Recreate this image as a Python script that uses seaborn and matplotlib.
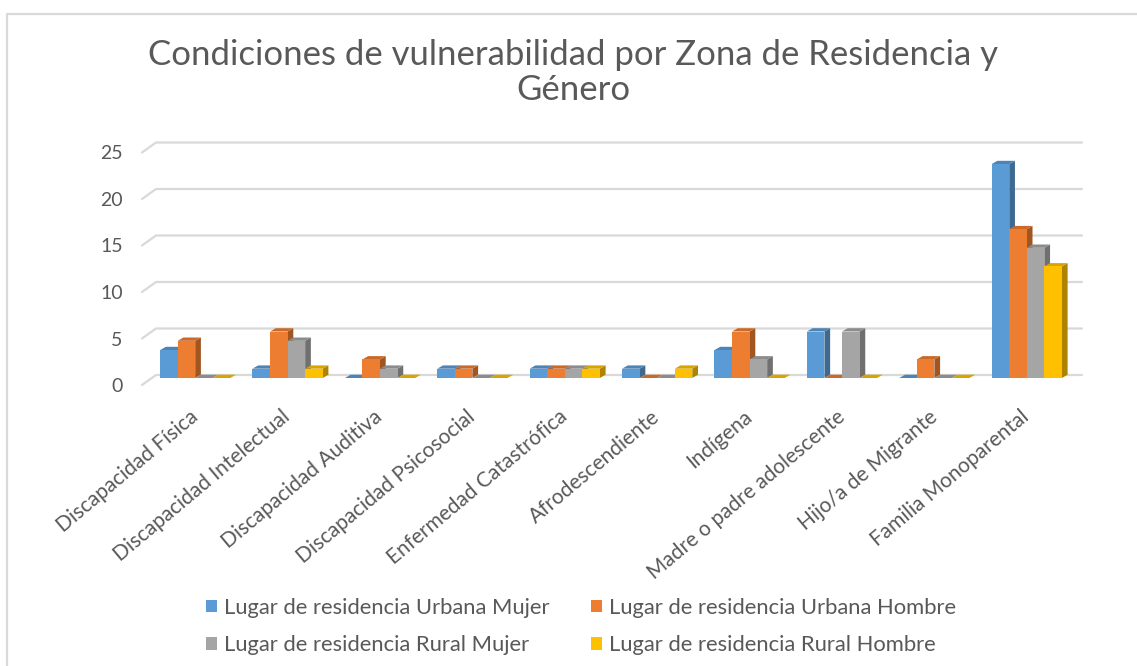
import matplotlib
matplotlib.use("Agg")
import matplotlib.pyplot as plt
import matplotlib.transforms as mtransforms
from matplotlib.patches import Polygon
from matplotlib.lines import Line2D
import matplotlib.colors as mcolors
import seaborn as sns
import numpy as np
import pandas as pd

# ---------------- datos ----------------
categorias = ["Discapacidad Física", "Discapacidad Intelectual", "Discapacidad Auditiva",
              "Discapacidad Psicosocial", "Enfermedad Catastrófica", "Afrodescendiente",
              "Indígena", "Madre o padre adolescente", "Hijo/a de Migrante",
              "Familia Monoparental"]
series = ["Lugar de residencia Urbana Mujer", "Lugar de residencia Urbana Hombre",
          "Lugar de residencia Rural Mujer", "Lugar de residencia Rural Hombre"]
urbana_mujer  = [3, 1, 0, 1, 1, 1, 3, 5, 0, 23]
urbana_hombre = [4, 5, 2, 1, 1, 0, 5, 0, 2, 16]
rural_mujer   = [0, 4, 1, 0, 1, 0, 2, 5, 0, 14]
rural_hombre  = [0, 1, 0, 0, 1, 1, 0, 0, 0, 12]
y_ticks = [0, 5, 10, 15, 20, 25]
titulo = "Condiciones de vulnerabilidad por Zona de Residencia y\nGénero"

colores = ["#5B9BD5", "#ED7D31", "#A5A5A5", "#FFC000"]
texto_gris = "#595959"
grid_gris = "#D9D9D9"

df = pd.DataFrame({
    "categoria": categorias * 4,
    "serie": sum([[s] * len(categorias) for s in series], []),
    "valor": urbana_mujer + urbana_hombre + rural_mujer + rural_hombre,
})

# ---------------- figura ----------------
sns.set_style("white")
plt.rcParams["font.family"] = ["Lato", "DejaVu Sans"]

W, H, DPI = 1137, 666, 100
fig = plt.figure(figsize=(W / DPI, H / DPI), dpi=DPI)

PX_X = 92.4      # px por categoria
PX_Y = 9.3       # px por unidad
ax_left, ax_bottom = 149, 378
ax_w = 10 * PX_X
ax_h = 25 * PX_Y
ax = fig.add_axes([ax_left / W, (H - ax_bottom) / H, ax_w / W, ax_h / H])

sns.barplot(data=df, x="categoria", y="valor", hue="serie", palette=colores,
            width=0.76, saturation=1, linewidth=0, ax=ax, legend=True)
ax.set_xlim(-0.5, 9.5)
ax.set_ylim(0, 25)

# ---- efecto 3D en las barras ----
dx = 5.7 / PX_X
dy = 3.3 / PX_Y
for h, cont in enumerate(ax.containers):
    base = np.array(mcolors.to_rgb(colores[h]))
    lado = base * 0.68
    tapa = base * 0.85
    for bar in cont:
        x0 = bar.get_x()
        x1 = x0 + bar.get_width()
        top = bar.get_height()
        bar.set_zorder(3 + h + 0.02)
        side = Polygon([(x1, 0), (x1 + dx, dy), (x1 + dx, top + dy), (x1, top)],
                       closed=True, facecolor=lado, edgecolor="none", zorder=3 + h + 0.01)
        cap = Polygon([(x0, top), (x1, top), (x1 + dx, top + dy), (x0 + dx, top + dy)],
                      closed=True, facecolor=tapa, edgecolor="none", zorder=3 + h + 0.015)
        ax.add_patch(side)
        ax.add_patch(cap)

# ---- lineas de cuadricula con perspectiva ----
fx = -0.5 - 7 / PX_X
bx = -0.5 + 7 / PX_X
rx = 9.5 + 9 / PX_X
for v in y_ticks:
    ax.add_line(Line2D([fx, bx, rx], [v - 7 / PX_Y, v + 3 / PX_Y, v + 3 / PX_Y],
                       color=grid_gris, lw=1.6, zorder=1, clip_on=False))

for s in ax.spines.values():
    s.set_visible(False)
ax.grid(False)
ax.set_xlabel("")
ax.set_ylabel("")

ax.set_yticks(y_ticks)
ax.set_yticklabels([str(v) for v in y_ticks])
ax.tick_params(axis="y", length=0, pad=19, labelsize=14, labelcolor=texto_gris)
for lab in ax.get_yticklabels():
    lab.set_transform(lab.get_transform() +
                      mtransforms.ScaledTranslation(0, -7 / DPI, fig.dpi_scale_trans))

ax.set_xticks(range(len(categorias)))
ax.set_xticklabels(categorias, rotation=40, ha="right", va="center",
                   rotation_mode="anchor", fontsize=15, color=texto_gris)
ax.tick_params(axis="x", length=0, pad=26)

# ---- leyenda (orden por filas como en Excel) ----
handles, labels = ax.get_legend_handles_labels()
ax.legend_.remove()
orden = [0, 2, 1, 3]
fig.legend([handles[i] for i in orden], [labels[i] for i in orden], ncol=2, loc="center",
           bbox_to_anchor=(581 / W, (H - 626.5) / H), frameon=False,
           fontsize=15.8, labelcolor=texto_gris, handlelength=0.5, handleheight=0.5,
           handletextpad=0.3, columnspacing=1.9, labelspacing=0.78)

# ---- titulo ----
fig.text(573 / W, 1 - 72.5 / H, titulo, ha="center", va="center",
         fontsize=25, color=texto_gris, linespacing=1.15)

# ---- borde del area del grafico ----
fig.add_artist(Line2D([7 / W, 7 / W, 1.0], [0.0, 1 - 14 / H, 1 - 14 / H],
                      transform=fig.transFigure, color=grid_gris, lw=1.6))

fig.savefig("out.png", dpi=DPI)
